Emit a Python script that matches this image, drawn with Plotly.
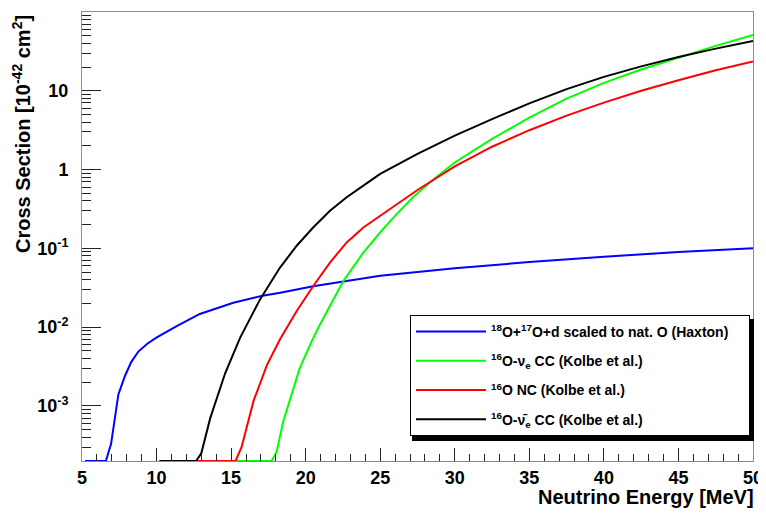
import math
import plotly.graph_objects as go

# ---------------- data ----------------
Y_FLOOR = 2e-4   # values below the drawn range are shown on the frame bottom

haxton_E = [5.2, 6.6, 6.95, 7.44, 7.88, 8.3, 8.78, 9.4, 9.96, 11.35, 12.9, 15.15, 17.1,
            18.3, 20.5, 22.5, 25, 30, 35, 40, 45, 50]
haxton_sigma = [Y_FLOOR, Y_FLOOR, 3.3e-4, 1.4e-3, 2.4e-3, 3.6e-3, 4.9e-3, 6.2e-3, 7.3e-3,
                1.03e-2, 1.47e-2, 2.04e-2, 2.5e-2, 2.73e-2, 3.3e-2, 3.8e-2, 4.5e-2,
                5.6e-2, 6.7e-2, 7.8e-2, 9.0e-2, 0.1]

nue_E = [10.2, 17.72, 18.05, 18.5, 19.6, 20.4, 20.96, 21.63, 22.53, 23.87, 24.99, 26.1,
         27.2, 28.34, 30, 32.5, 35, 37.5, 40, 42.5, 45, 47.5, 50]
nue_sigma = [Y_FLOOR, Y_FLOOR, 2.6e-4, 6.4e-4, 3.0e-3, 6.6e-3, 1.08e-2, 1.86e-2, 3.85e-2,
             8.85e-2, 0.159, 0.272, 0.445, 0.69, 1.23, 2.45, 4.57, 7.94, 12.6, 18.6,
             26.3, 37.2, 51]

nc_E = [10.2, 15.3, 15.7, 16.5, 17.4, 18.28, 19.4, 20.51, 21.63, 22.75, 23.87, 25.0,
        27.5, 30, 32.5, 35, 37.5, 40, 42.5, 45, 47.5, 50]
nc_sigma = [Y_FLOOR, Y_FLOOR, 3.0e-4, 1.15e-3, 3.3e-3, 7.0e-3, 1.6e-2, 3.33e-2, 6.6e-2,
            0.119, 0.184, 0.26, 0.55, 1.10, 1.95, 3.16, 4.84, 7.08, 10.0, 13.6, 18.2, 23.5]

nuebar_E = [10.2, 12.65, 13.0, 13.6, 14.6, 15.6, 16.94, 18.28, 19.4, 20.5, 21.63, 22.75,
            23.87, 25.0, 27.5, 30, 32.5, 35, 37.5, 40, 42.5, 45, 47.5, 50]
nuebar_sigma = [Y_FLOOR, Y_FLOOR, 2.5e-4, 7e-4, 2.6e-3, 7.3e-3, 2.25e-2, 5.7e-2, 0.108,
                0.184, 0.30, 0.445, 0.625, 0.88, 1.58, 2.69, 4.37, 6.92, 10.5, 15.0,
                20.4, 26.9, 34.3, 43]

series_names = [
    "<sup>18</sup>O+<sup>17</sup>O+d scaled to nat. O (Haxton)",
    "<sup>16</sup>O-\u03bd<sub>e</sub> CC (Kolbe et al.)",
    "<sup>16</sup>O NC (Kolbe et al.)",
    "<sup>16</sup>O-\u03bd\u0304<sub>e</sub> CC (Kolbe et al.)",
]
series_colors = ["#0000ff", "#00ff00", "#ff0000", "#000000"]

y_tickvals = [1e-3, 1e-2, 1e-1, 1, 10, 100]
y_ticktext = ["10<sup>-3</sup>", "10<sup>-2</sup>", "10<sup>-1</sup>", "1", "10", "10<sup>2</sup>"]
x_range = [5, 50]
y_range = [Y_FLOOR, 100]

# ---------------- figure ----------------
# the page body has an 8px default margin, so the figure is 8px smaller each way
OFF = 8
W, H = 766 - OFF, 514 - OFF
# plot frame in screen pixels: x 82..753, y 12..461
ML, MR, MT, MB = 82 - OFF, 766 - 753, 12 - OFF, 514 - 461
FONT = "Liberation Sans, Arial, sans-serif"

fig = go.Figure()
all_E = [haxton_E, nue_E, nc_E, nuebar_E]
all_S = [haxton_sigma, nue_sigma, nc_sigma, nuebar_sigma]
for i in range(4):
    fig.add_trace(go.Scatter(
        x=all_E[i], y=all_S[i], mode="lines",
        name=series_names[i] + "\u00a0\u00a0\u00a0\u00a0",
        line=dict(color=series_colors[i], width=2), legendgroup=str(i),
    ))

axis_common = dict(
    showline=True, linecolor="#8c8c8c", linewidth=1, mirror=True,
    ticks="inside", tickcolor="#222", tickwidth=1,
    showgrid=False, zeroline=False, automargin=False,
    tickfont=dict(family=FONT, size=18, color="black", weight="bold"),
)

fig.update_xaxes(range=x_range, tick0=5, dtick=5, ticklen=13,
                 minor=dict(ticks="inside", dtick=1, ticklen=7, tickcolor="#222", showgrid=False),
                 ticklabelstandoff=0, **axis_common)
fig.update_yaxes(type="log", range=[math.log10(y_range[0]), math.log10(y_range[1])],
                 tickvals=y_tickvals, ticktext=y_ticktext, ticklen=19,
                 minor=dict(ticks="inside", dtick="D1", ticklen=9, tickcolor="#222", showgrid=False),
                 ticklabelstandoff=9, **axis_common)

pw, ph = W - ML - MR, H - MT - MB

def sx(px):  # screen x -> paper
    return (px - OFF - ML) / pw
def sy(py):  # screen y -> paper
    return (H - MB - (py - OFF)) / ph

# legend box geometry in screen pixels
LG_L, LG_R, LG_T, LG_B = 408, 750, 315, 437

fig.add_shape(type="rect", xref="paper", yref="paper",
              x0=sx(LG_L + 4), x1=sx(LG_R + 4),
              y0=sy(LG_B + 4), y1=sy(LG_T + 4),
              fillcolor="black", line=dict(width=0), layer="above")

fig.update_layout(
    width=W, height=H,
    margin=dict(l=ML, r=MR, t=MT, b=MB, autoexpand=False),
    paper_bgcolor="white", plot_bgcolor="white",
    font=dict(family=FONT, color="black"),
    showlegend=True,
    legend=dict(
        x=sx(LG_R), xanchor="right",
        y=sy(LG_T), yanchor="top",
        bgcolor="white", bordercolor="black", borderwidth=1,
        font=dict(family=FONT, size=14, color="black", weight="bold"),
        tracegroupgap=8, itemwidth=70,
    ),
    annotations=[
        dict(text="Neutrino Energy [MeV]", xref="paper", yref="paper",
             x=sx(756), y=sy(497), xanchor="right", yanchor="middle",
             showarrow=False, font=dict(family=FONT, size=20, color="black", weight="bold")),
        dict(text="Cross Section [10<sup>-42</sup> cm<sup>2</sup>]", xref="paper", yref="paper",
             x=sx(22), y=sy(13), xanchor="center", yanchor="top",
             textangle=-90, showarrow=False,
             font=dict(family=FONT, size=20, color="black", weight="bold")),
    ],
)

fig.write_html("out.html")
